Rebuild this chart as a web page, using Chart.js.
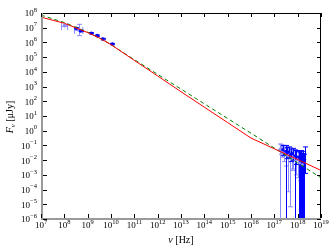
<!DOCTYPE html>
<html><head><meta charset="utf-8">
<script src="https://cdn.jsdelivr.net/npm/chart.js@4"></script>
<style>html,body{margin:0;padding:0;background:#fff;}</style>
</head><body>
<canvas id="c" width="333" height="251" style="width:333px;height:251px;display:block"></canvas>
<script>
// ---- model curves (frequency in Hz, flux in μJy) ----
const modelNu      = [1e7, 1e8, 1e9, 3.16e9, 1e10, 1e11, 1e12, 1e13, 1e14, 1e15, 1e16, 1e17, 1e18, 1e19];
const redModelF    = [5.25e7, 2.0e7, 4.68e6, 2.0e6, 7.08e5, 6.03e4, 5.25e3, 447, 39.8, 3.55, 0.316, 0.0589, 0.011, 0.002];
const greenModelF  = [7.24e7, 2.24e7, 5.01e6, 2.0e6, 7.08e5, 6.76e4, 6.76e3, 676, 67.6, 6.76, 0.676, 0.0661, 0.00646, 6.31e-4];

// ---- radio data ----
const radioDarkNu  = [3.24e8, 5.01e8, 1.45e9, 2.57e9, 4.47e9, 1.15e10];
const radioDarkF   = [9.12e6, 6.03e6, 4.17e6, 2.88e6, 1.70e6, 7.76e5];
const radioDarkLo  = [8.3e6, 5.4e6, 3.8e6, 2.6e6, 1.5e6, 7.0e5];
const radioDarkHi  = [1.0e7, 6.7e6, 4.6e6, 3.2e6, 1.9e6, 8.6e5];

const radioLightNu   = [1.02e8, 4.07e8];
const radioLightF    = [1.38e7, 6.92e6];
const radioLightLo   = [1.25e7, 2.88e6];
const radioLightHi   = [1.52e7, 1.70e7];
const radioLightNuLo = [7.6e7, 2.75e8];
const radioLightNuHi = [1.38e8, 6.17e8];

// ---- X-ray data (lower bound 0 = error bar reaches below the axis) ----
const xrayDarkNu = [2.29e17, 3.02e17, 3.55e17, 4.17e17, 5.01e17, 6.03e17, 7.59e17, 8.91e17, 1.12e18, 1.26e18, 1.38e18, 1.51e18, 1.66e18, 1.82e18, 2.0e18];
const xrayDarkF  = [0.0501, 0.0398, 0.0316, 0.0355, 0.0251, 0.0282, 0.02, 0.0178, 0.0158, 0.0126, 0.0178, 0.01, 0.0141, 0.00794, 0.0112];
const xrayDarkLo = [0.02, 0, 0.0126, 0.0158, 0.00794, 0.01, 0, 0.005, 0, 0, 0, 0, 0, 0, 0.00126];
const xrayDarkHi = [0.1, 0.1, 0.0708, 0.0794, 0.0562, 0.0631, 0.0501, 0.0447, 0.0398, 0.0355, 0.0447, 0.0282, 0.0398, 0.0251, 0.0794];

const xrayLightNu = [1.70e17, 1.91e17, 2.14e17, 2.63e17, 3.16e17, 3.80e17, 4.57e17, 5.50e17, 6.61e17, 8.32e17, 1.0e18, 1.20e18, 1.58e18];
const xrayLightF  = [0.0501, 0.0631, 0.0447, 0.0316, 0.0251, 0.02, 0.0282, 0.0126, 0.0158, 0.00891, 0.0112, 0.00631, 0.00501];
const xrayLightLo = [0, 0.0251, 0.0158, 0.00794, 0.00398, 7.08e-5, 6.76e-6, 0.002, 0.00251, 0.001, 6.31e-4, 3.98e-4, 0];
const xrayLightHi = [0.126, 0.112, 0.1, 0.0794, 0.0631, 0.0562, 0.0708, 0.0398, 0.0447, 0.0316, 0.0355, 0.0251, 0.02];

// ---- ticks ----
const xTickExps = [7, 8, 9, 10, 11, 12, 13, 14, 15, 16, 17, 18, 19];
const yTickExps = [-6, -5, -4, -3, -2, -1, 0, 1, 2, 3, 4, 5, 6, 7, 8];

const DARK = '#0000ff';
const LIGHT = '#8c8cff';
const SERIF = '"Liberation Serif", "DejaVu Serif", serif';

function pts(xs, ys) { return xs.map((x, i) => ({ x: x, y: ys[i] })); }

const errorBars = {
  id: 'errorBars',
  beforeDatasetsDraw(chart) {
    const ctx = chart.ctx, xs = chart.scales.x, ys = chart.scales.y, a = chart.chartArea;
    ctx.save();
    ctx.beginPath(); ctx.rect(a.left, a.top, a.right - a.left, a.bottom - a.top); ctx.clip();
    ctx.lineWidth = 1;
    function vbar(nu, lo, hi, color) {
      const px = Math.round(xs.getPixelForValue(nu)) + 0.5;
      const yLo = lo > 0 ? ys.getPixelForValue(lo) : a.bottom + 5;
      const yHi = ys.getPixelForValue(hi);
      ctx.strokeStyle = color;
      ctx.beginPath();
      ctx.moveTo(px, yLo); ctx.lineTo(px, yHi);
      ctx.moveTo(px - 2.5, yHi); ctx.lineTo(px + 2.5, yHi);
      ctx.moveTo(px - 2.5, yLo); ctx.lineTo(px + 2.5, yLo);
      ctx.stroke();
    }
    function hbar(f, nlo, nhi, color) {
      const py = Math.round(ys.getPixelForValue(f)) + 0.5;
      const x1 = xs.getPixelForValue(nlo), x2 = xs.getPixelForValue(nhi);
      ctx.strokeStyle = color;
      ctx.beginPath();
      ctx.moveTo(x1, py); ctx.lineTo(x2, py);
      ctx.moveTo(x1, py - 3.5); ctx.lineTo(x1, py + 3.5);
      ctx.moveTo(x2, py - 3.5); ctx.lineTo(x2, py + 3.5);
      ctx.stroke();
    }
    xrayLightNu.forEach((n, i) => vbar(n, xrayLightLo[i], xrayLightHi[i], LIGHT));
    xrayDarkNu.forEach((n, i) => vbar(n, xrayDarkLo[i], xrayDarkHi[i], DARK));
    radioLightNu.forEach((n, i) => { vbar(n, radioLightLo[i], radioLightHi[i], LIGHT); hbar(radioLightF[i], radioLightNuLo[i], radioLightNuHi[i], LIGHT); });
    radioDarkNu.forEach((n, i) => vbar(n, radioDarkLo[i], radioDarkHi[i], DARK));
    ctx.restore();
  }
};

function drawPow(ctx, exp, x, y, align) {
  // draws "10" with a raised exponent; align 'right' => x is right edge, 'center' => x is center
  const base = '10', ex = String(exp).replace('-', '\u2212');
  ctx.font = '9px ' + SERIF;
  const w1 = ctx.measureText(base).width;
  ctx.font = '6.5px ' + SERIF;
  const w2 = ctx.measureText(ex).width;
  const total = w1 + w2;
  const left = align === 'right' ? x - total : x - total / 2;
  ctx.textAlign = 'left';
  ctx.textBaseline = 'middle';
  ctx.font = '9px ' + SERIF;
  ctx.fillText(base, left, y);
  ctx.font = '6.5px ' + SERIF;
  ctx.fillText(ex, left + w1, y - 4);
}

const axesPlugin = {
  id: 'axesPlugin',
  afterDraw(chart) {
    const ctx = chart.ctx, xs = chart.scales.x, ys = chart.scales.y, a = chart.chartArea;
    ctx.save();
    // frame
    ctx.lineWidth = 1;
    ctx.strokeStyle = '#000';
    ctx.beginPath();
    ctx.moveTo(a.left, a.top + 0.5); ctx.lineTo(a.right - 0.5, a.top + 0.5); ctx.lineTo(a.right - 0.5, a.bottom);
    ctx.stroke();
    ctx.strokeStyle = '#9a9a9a';
    ctx.lineWidth = 2;
    ctx.beginPath();
    ctx.moveTo(a.left + 1, a.top); ctx.lineTo(a.left + 1, a.bottom);
    ctx.moveTo(a.left, a.bottom); ctx.lineTo(a.right, a.bottom);
    ctx.stroke();
    // ticks
    ctx.lineWidth = 1;
    ctx.strokeStyle = '#000';
    ctx.beginPath();
    xTickExps.forEach(e => {
      const px = Math.round(xs.getPixelForValue(Math.pow(10, e))) + 0.5;
      ctx.moveTo(px, a.top); ctx.lineTo(px, a.top + 4);
      ctx.moveTo(px, a.bottom - 1); ctx.lineTo(px, a.bottom - 5);
    });
    yTickExps.forEach(e => {
      const py = Math.round(ys.getPixelForValue(Math.pow(10, e))) + 0.5;
      ctx.moveTo(a.left + 2, py); ctx.lineTo(a.left + 6, py);
      ctx.moveTo(a.right, py); ctx.lineTo(a.right - 4, py);
    });
    ctx.stroke();
    // tick labels
    ctx.fillStyle = '#000';
    xTickExps.forEach(e => {
      const px = xs.getPixelForValue(Math.pow(10, e));
      drawPow(ctx, e, px, a.bottom + 7, 'center');
    });
    yTickExps.forEach(e => {
      const py = ys.getPixelForValue(Math.pow(10, e));
      drawPow(ctx, e, a.left - 4, py + 1, 'right');
    });
    // x title: ν [Hz]
    ctx.textBaseline = 'middle';
    ctx.textAlign = 'left';
    ctx.font = 'italic 10px ' + SERIF;
    const nuW = ctx.measureText('\u03bd').width;
    ctx.font = '10px ' + SERIF;
    const restW = ctx.measureText(' [Hz]').width;
    let sx = 181 - (nuW + restW) / 2;
    ctx.font = 'italic 10px ' + SERIF; ctx.fillText('\u03bd', sx, 240.5);
    ctx.font = '10px ' + SERIF; ctx.fillText(' [Hz]', sx + nuW, 240.5);
    // y title: F_ν [μJy]
    ctx.translate(10.5, 117);
    ctx.rotate(-Math.PI / 2);
    ctx.font = 'italic 10px ' + SERIF;
    const fW = ctx.measureText('F').width;
    ctx.font = 'italic 7px ' + SERIF;
    const subW = ctx.measureText('\u03bd').width;
    ctx.font = '10px ' + SERIF;
    const tW = ctx.measureText(' [\u03bcJy]').width;
    sx = -(fW + subW + tW) / 2;
    ctx.font = 'italic 10px ' + SERIF; ctx.fillText('F', sx, 0);
    ctx.font = 'italic 7px ' + SERIF; ctx.fillText('\u03bd', sx + fW, 3);
    ctx.font = '10px ' + SERIF; ctx.fillText(' [\u03bcJy]', sx + fW + subW, 0);
    ctx.restore();
  }
};

new Chart(document.getElementById('c'), {
  type: 'scatter',
  data: {
    datasets: [
      { data: pts(modelNu, redModelF), showLine: true, borderColor: '#ff0000', borderWidth: 1, pointRadius: 0, fill: false },
      { data: pts(modelNu, greenModelF), showLine: true, borderColor: '#008000', borderWidth: 1, borderDash: [4, 3], pointRadius: 0, fill: false },
      { data: pts(radioDarkNu, radioDarkF), backgroundColor: DARK, borderColor: DARK, pointRadius: 1.8, borderWidth: 0 },
      { data: pts(radioLightNu, radioLightF), backgroundColor: LIGHT, borderColor: LIGHT, pointRadius: 1.8, borderWidth: 0 },
      { data: pts(xrayDarkNu, xrayDarkF), backgroundColor: DARK, borderColor: DARK, pointRadius: 1.5, borderWidth: 0 },
      { data: pts(xrayLightNu, xrayLightF), backgroundColor: LIGHT, borderColor: LIGHT, pointRadius: 1.5, borderWidth: 0 }
    ]
  },
  options: {
    responsive: false,
    animation: false,
    devicePixelRatio: 1,
    layout: { padding: { left: 41, top: 13, right: 12, bottom: 32 } },
    plugins: { legend: { display: false }, tooltip: { enabled: false } },
    scales: {
      x: { type: 'logarithmic', min: 1e7, max: 1e19, display: false },
      y: { type: 'logarithmic', min: 1e-6, max: 1e8, display: false }
    }
  },
  plugins: [errorBars, axesPlugin]
});
</script>
</body></html>
